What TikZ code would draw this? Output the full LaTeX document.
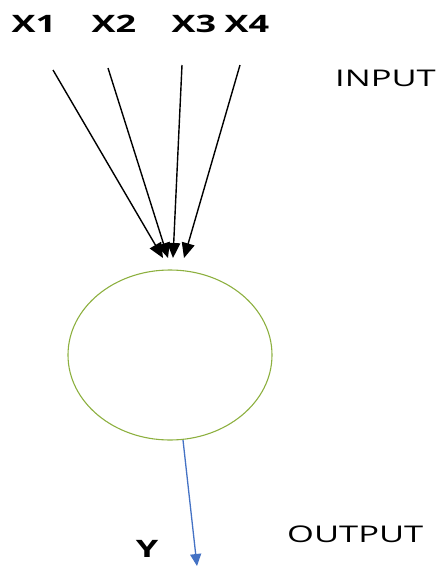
\documentclass[tikz,border=0pt]{standalone}
\usepackage{fontspec}
\setmainfont{Open Sans}
\usetikzlibrary{arrows.meta,shapes.geometric}
\definecolor{ringgreen}{HTML}{8DB040}
\definecolor{outblue}{HTML}{4472C4}
\tikzset{
  xlab/.style={inner sep=0pt, font=\fontsize{24}{24}\selectfont\bfseries},
  plainlab/.style={inner sep=0pt, font=\fontsize{23}{23}\selectfont},
  inarrow/.style={draw=black, line width=1.4pt, -{Triangle[length=15pt,width=13pt]}},
  outarrow/.style={draw=outblue, line width=1.3pt, -{Triangle[length=12pt,width=11pt]}},
}
\newcommand{\wide}[1]{\scalebox{1.5}[1]{#1}}
\begin{document}
\begin{tikzpicture}[x=1pt,y=-1pt]
\useasboundingbox (0,0) rectangle (438,568);
\node[xlab] (x1) at (34,24) {\wide{X1}};
\node[xlab] (x2) at (114,24) {\wide{X2}};
\node[xlab] (x3) at (194,24) {\wide{X3}};
\node[xlab] (x4) at (247,24) {\wide{X4}};
\node[plainlab, anchor=west] (inp) at (335,78) {\wide{INPUT}};
\node[plainlab, anchor=west] (outp) at (287,534) {\wide{OUTPUT}};
\node[xlab] (y) at (147,549) {\wide{Y}};
\node[draw=ringgreen, line width=1.1pt, ellipse, minimum width=204pt, minimum height=170pt, inner sep=0pt] (cell) at (170,355) {};
\coordinate (s1) at (53,70);
\coordinate (s2) at (108,68);
\coordinate (s3) at (182,65);
\coordinate (s4) at (240,65);
\coordinate (t1) at (163,258);
\coordinate (t2) at (168,258);
\coordinate (t3) at (173,258);
\coordinate (t4) at (184,258);
\coordinate (ys) at (183,440);
\coordinate (ye) at (197,566);
\draw[inarrow] (s1) -- (t1);
\draw[inarrow] (s2) -- (t2);
\draw[inarrow] (s3) -- (t3);
\draw[inarrow] (s4) -- (t4);
\draw[outarrow] (ys) -- (ye);
\end{tikzpicture}
\end{document}
